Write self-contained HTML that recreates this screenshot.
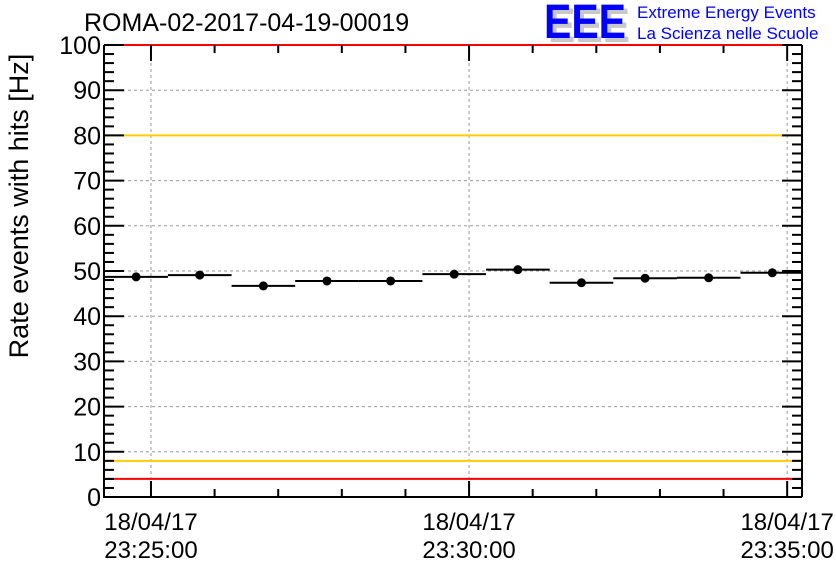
<!DOCTYPE html>
<html><head><meta charset="utf-8"><style>
body{margin:0;background:#fff}
svg{display:block;font-family:"Liberation Sans",sans-serif}
</style></head><body>
<svg id="chart" width="836" height="572" viewBox="0 0 836 572">
<text x="84" y="31" font-size="25">ROMA-02-2017-04-19-00019</text>
<g>
<text x="548" y="42" font-size="48" font-weight="bold" fill="#c8c8c8" textLength="82" lengthAdjust="spacingAndGlyphs">EEE</text>
<text x="544" y="38" font-size="48" font-weight="bold" fill="#0000ff" textLength="82" lengthAdjust="spacingAndGlyphs">EEE</text>
<text x="637" y="18" font-size="17" fill="#0000ff">Extreme Energy Events</text>
<text x="637" y="39" font-size="17" fill="#0000ff">La Scienza nelle Scuole</text>
</g>
<text transform="translate(28,206) rotate(-90)" text-anchor="middle" font-size="27">Rate events with hits [Hz]</text>
<g id="plot"></g>
</svg>
<script>
const binCenters = [-14, 46, 106, 166, 226, 286, 346, 406, 466, 526, 586]; // seconds from 23:25:00
const rates = [48.7, 49.1, 46.7, 47.8, 47.8, 49.3, 50.3, 47.4, 48.4, 48.5, 49.6];
const yTicks = [0,10,20,30,40,50,60,70,80,90,100];
const xTickTimes = [0, 300, 600];
const xTickLabels = [["18/04/17","23:25:00"],["18/04/17","23:30:00"],["18/04/17","23:35:00"]];
const thresholdsRed = [4, 100];
const thresholdsYellow = [8, 80];
const binWidth = 60;

const L=104,R=802,T=45,B=497, xMin=-44.3, xMax=614, yMin=0, yMax=100;
const X=v=>L+(v-xMin)/(xMax-xMin)*(R-L);
const Y=v=>B-(v-yMin)/(yMax-yMin)*(B-T);
const g=document.getElementById('plot');
const NS='http://www.w3.org/2000/svg';
function mk(tag,attrs,name){const e=document.createElementNS(NS,tag);for(const k in attrs)e.setAttribute(k,attrs[k]);


g.appendChild(e);return e;}
yTicks.forEach(v=>{if(v>0&&v<100)mk('line',{x1:L,x2:R,y1:Y(v),y2:Y(v),stroke:'#999','stroke-dasharray':'3,3'},'y-grid-line');});
xTickTimes.forEach(t=>mk('line',{x1:X(t),x2:X(t),y1:T,y2:B,stroke:'#999','stroke-dasharray':'3,3'},'x-grid-line'));
thresholdsYellow.forEach(v=>mk('line',{x1:L,x2:R,y1:Y(v),y2:Y(v),stroke:'#ffcc00','stroke-width':2},'yellow-threshold'));
thresholdsRed.forEach(v=>mk('line',{x1:L,x2:R,y1:Y(v),y2:Y(v),stroke:'#ff0000','stroke-width':2},'red-threshold'));
mk('line',{x1:L,x2:L,y1:T,y2:B+1,stroke:'#000','stroke-width':2},'y-axis');
mk('line',{x1:L-1,x2:R,y1:B,y2:B,stroke:'#000','stroke-width':2},'x-axis');
mk('line',{x1:R,x2:R,y1:T,y2:B,stroke:'#000','stroke-width':2},'right-axis');
for(let v=0;v<=100;v+=2){const major=v%10===0;const len=major?20:10;
mk('line',{x1:L,x2:L+len,y1:Y(v),y2:Y(v),stroke:'#000','stroke-width':2},'y-tick');
mk('line',{x1:R,x2:R-len,y1:Y(v),y2:Y(v),stroke:'#000','stroke-width':2},'y-tick-right');}
yTicks.forEach(v=>{const t=mk('text',{x:L-3,y:Y(v)+9,'text-anchor':'end','font-size':25},'y-tick-label');t.textContent=v;});
for(let t=0;t<=xMax;t+=60){const major=xTickTimes.includes(t);const len=major?16:8;
mk('line',{x1:X(t),x2:X(t),y1:B,y2:B-len,stroke:'#000','stroke-width':2},'x-tick');
mk('line',{x1:X(t),x2:X(t),y1:T,y2:T+len,stroke:'#000','stroke-width':2},'x-tick-top');}
xTickTimes.forEach((t,i)=>{
const a=mk('text',{x:X(t),y:530,'text-anchor':'middle','font-size':24},'x-tick-date');a.textContent=xTickLabels[i][0];
const b=mk('text',{x:X(t),y:558,'text-anchor':'middle','font-size':24},'x-tick-time');b.textContent=xTickLabels[i][1];});
binCenters.forEach((c,i)=>{
const x1=Math.max(X(c-binWidth/2),L), x2=Math.min(X(c+binWidth/2),R);
mk('line',{x1:x1,x2:x2,y1:Y(rates[i]),y2:Y(rates[i]),stroke:'#000','stroke-width':2},'rate-bin');
mk('circle',{cx:X(c),cy:Y(rates[i]),r:4.5,fill:'#000'},'rate-point');});
</script>
</body></html>
